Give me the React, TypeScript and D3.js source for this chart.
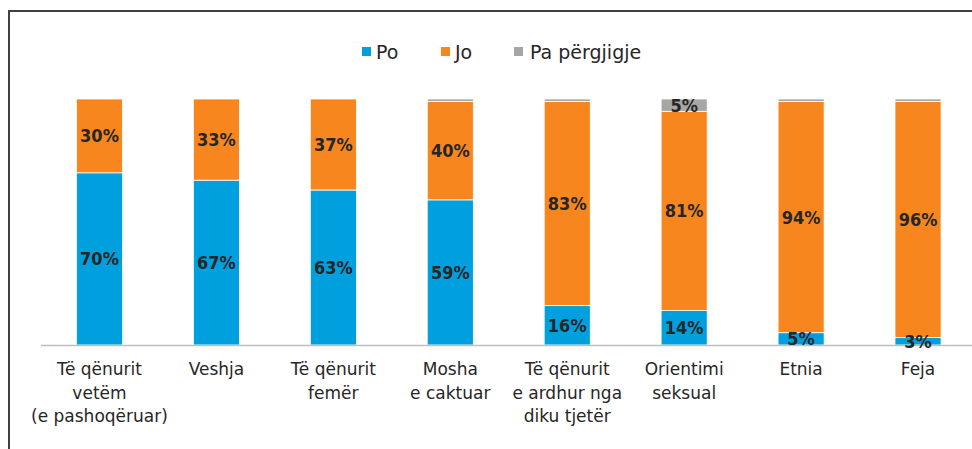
import React from "react";
import * as d3 from "d3";

const categories: string[][] = [
  ["Të qënurit", "vetëm", "(e pashoqëruar)"],
  ["Veshja"],
  ["Të qënurit", "femër"],
  ["Mosha", "e caktuar"],
  ["Të qënurit", "e ardhur nga", "diku tjetër"],
  ["Orientimi", "seksual"],
  ["Etnia"],
  ["Feja"],
];
const po = [70, 67, 63, 59, 16, 14, 5, 3];
const jo = [30, 33, 37, 40, 83, 81, 94, 96];
const pa = [0, 0, 0, 1, 1, 5, 1, 1];
const seriesNames = ["Po", "Jo", "Pa përgjigje"];
const seriesColors = ["#009FDE", "#F7861F", "#A6A6A6"];

const W = 972;
const H = 449;
const FONT = "'DejaVu Sans', sans-serif";
const FONT_C = "'DejaVu Sans Condensed', 'DejaVu Sans', sans-serif";

export default function App() {
  const idx = categories.map((_, i) => i);
  const x = d3.scaleBand<number>().domain(idx).range([41, 976.5]).paddingInner(0.606).paddingOuter(0.303);
  const y = d3.scaleLinear().domain([0, 100]).range([345, 99]);
  const rows = idx.map((i) => ({ i, Po: po[i], Jo: jo[i], Pa: pa[i] }));
  const stack = d3.stack<any>().keys(["Po", "Jo", "Pa"])(rows);

  const legendItems = [
    { name: seriesNames[0], color: seriesColors[0], sx: 362, tx: 376 },
    { name: seriesNames[1], color: seriesColors[1], sx: 441, tx: 455 },
    { name: seriesNames[2], color: seriesColors[2], sx: 514, tx: 530 },
  ];

  return (
    <svg width={W} height={H} style={{ position: "absolute", left: 0, top: 0, background: "#fff" }}>
      <rect x={9} y={11} width={W + 20} height={H + 20} fill="none" stroke="#404040" strokeWidth={2} />
      {legendItems.map((l) => (
        <g key={l.name}>
          <rect x={l.sx} y={47} width={9} height={9} fill={l.color} />
          <text x={l.tx} y={59} fontFamily={FONT} fontSize={19} fill="#262626">{l.name}</text>
        </g>
      ))}
      {stack.map((s, si) => (
        <g key={si}>
          {s.map((d, i) => {
            const h = y(d[0]) - y(d[1]);
            if (h <= 0) return null;
            return (
              <rect key={i} x={x(i)} y={y(d[1])} width={x.bandwidth()} height={h}
                fill={seriesColors[si]} stroke="#fff" strokeWidth={0.8} />
            );
          })}
        </g>
      ))}
      <line x1={41} x2={W} y1={345.5} y2={345.5} stroke="#BFBFBF" strokeWidth={1.5} />
      {stack.map((s, si) => (
        <g key={"l" + si}>
          {s.map((d, i) => {
            const v = d[1] - d[0];
            if (v < 2) return null;
            return (
              <text key={i} x={(x(i) as number) + x.bandwidth() / 2} y={(y(d[0]) + y(d[1])) / 2}
                dy="0.36em" textAnchor="middle" fontFamily={FONT_C} fontSize={18} fontWeight="bold" fill="#262626">
                {v}%
              </text>
            );
          })}
        </g>
      ))}
      {categories.map((lines, i) => (
        <text key={i} textAnchor="middle" fontFamily={FONT} fontSize={17} fill="#262626">
          {lines.map((ln, k) => (
            <tspan key={k} x={(x(i) as number) + x.bandwidth() / 2} y={375 + k * 23.5}>{ln}</tspan>
          ))}
        </text>
      ))}
    </svg>
  );
}
